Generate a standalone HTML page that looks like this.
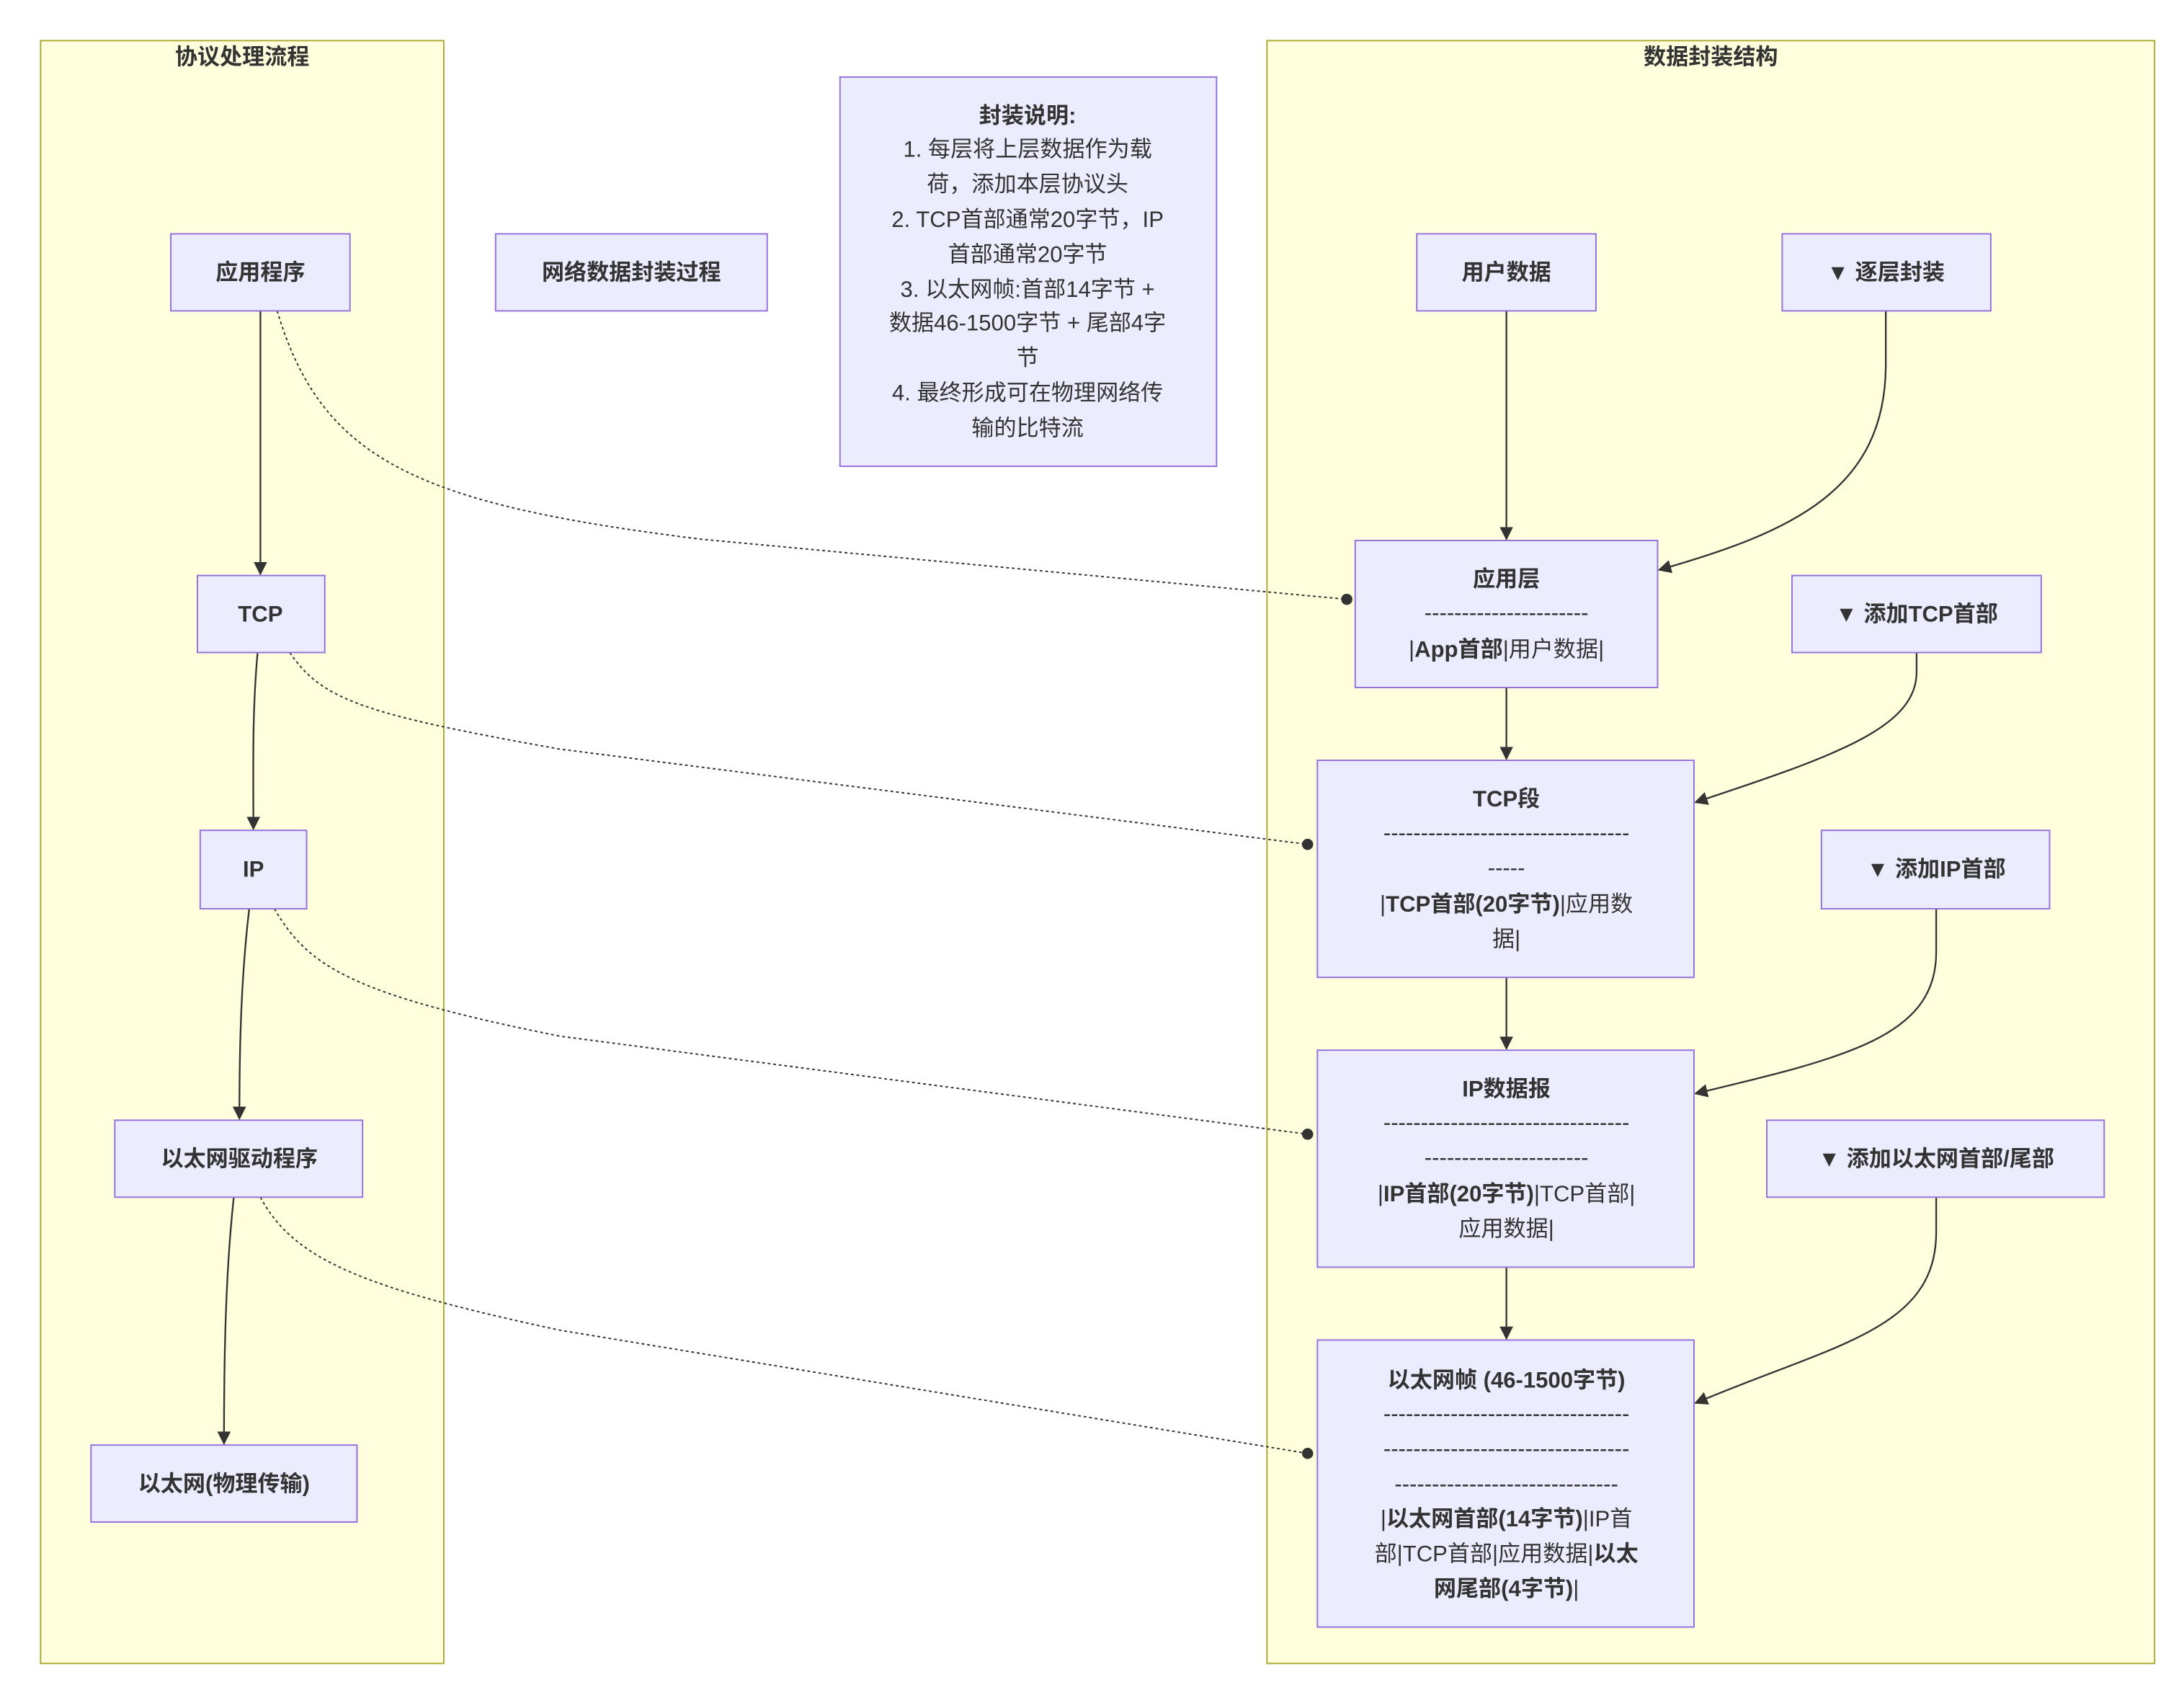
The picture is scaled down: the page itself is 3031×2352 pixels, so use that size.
<!DOCTYPE html>
<html><head><meta charset="utf-8"><style>
html,body{margin:0;padding:0;background:#fff;}
svg{display:block;}
text{font-family:"Liberation Sans","Noto Sans CJK SC",sans-serif;fill:#333;font-size:16px;text-anchor:middle;}
.b{font-weight:bold;}
.sg{fill:#ffffde;stroke:#aaaa33;stroke-width:1;}
.n{fill:#ECECFF;stroke:#9370DB;stroke-width:1;}
.e{fill:none;stroke:#333;stroke-width:1.2;}
.d{fill:none;stroke:#333;stroke-width:1;stroke-dasharray:2 2;}
</style></head><body>
<svg width="3031" height="2352" viewBox="0 0 1560 1210.5" xmlns="http://www.w3.org/2000/svg">
<defs>
<marker id="a" viewBox="0 0 10 10" refX="9" refY="5" markerWidth="8" markerHeight="8" orient="auto"><path d="M0,0L10,5L0,10z" fill="#333"/></marker>
<marker id="c" viewBox="0 0 10 10" refX="5" refY="5" markerWidth="8" markerHeight="8"><circle cx="5" cy="5" r="5" fill="#333"/></marker>
</defs>
<rect class="sg" x="29" y="29" width="288" height="1159"/>
<text class="b" x="173" y="46">协议处理流程</text>
<rect class="sg" x="905" y="29" width="634" height="1159"/>
<text class="b" x="1222" y="46">数据封装结构</text>

<!-- edges -->
<path class="e" marker-end="url(#a)" d="M186,222 L186,410"/>
<path class="e" marker-end="url(#a)" d="M184,466 C180,510 181,550 181,592"/>
<path class="e" marker-end="url(#a)" d="M178,649 C172,700 171,750 171,799"/>
<path class="e" marker-end="url(#a)" d="M167,855 C161,910 160,970 160,1031"/>
<path class="e" marker-end="url(#a)" d="M1076,222 L1076,385"/>
<path class="e" marker-end="url(#a)" d="M1076,491 L1076,542"/>
<path class="e" marker-end="url(#a)" d="M1076,698 L1076,749"/>
<path class="e" marker-end="url(#a)" d="M1076,905 L1076,956"/>
<path class="e" marker-end="url(#a)" d="M1347,222 L1347,260 C1347,350 1280,380 1185,407"/>
<path class="e" marker-end="url(#a)" d="M1369,466 L1369,480 C1369,520 1310,540 1211,573"/>
<path class="e" marker-end="url(#a)" d="M1383,649 L1383,680 C1383,740 1320,755 1211,781"/>
<path class="e" marker-end="url(#a)" d="M1383,855 L1383,880 C1383,950 1310,960 1211,1002"/>
<path class="d" marker-end="url(#c)" d="M198,222 C230,330 300,360 500,385 L962,428"/>
<path class="d" marker-end="url(#c)" d="M207,466 C230,500 260,510 400,535 L934,603"/>
<path class="d" marker-end="url(#c)" d="M196,649 C220,690 250,710 400,740 L934,810"/>
<path class="d" marker-end="url(#c)" d="M186,855 C210,900 260,920 400,950 L934,1038"/>

<!-- nodes -->
<rect class="n" x="122" y="167" width="128" height="55"/><text class="b" x="186" y="200">应用程序</text>
<rect class="n" x="141" y="411" width="91" height="55"/><text class="b" x="186" y="444">TCP</text>
<rect class="n" x="143" y="593" width="76" height="56"/><text class="b" x="181" y="626">IP</text>
<rect class="n" x="82" y="800" width="177" height="55"/><text class="b" x="171" y="833">以太网驱动程序</text>
<rect class="n" x="65" y="1032" width="190" height="55"/><text class="b" x="160" y="1065">以太网(物理传输)</text>
<rect class="n" x="354" y="167" width="194" height="55"/><text class="b" x="451" y="200">网络数据封装过程</text>

<rect class="n" x="600" y="55" width="269" height="278"/>
<text x="734" y="88" class="b">封装说明:</text>
<text x="734" y="112">1. 每层将上层数据作为载</text>
<text x="734" y="137">荷，添加本层协议头</text>
<text x="734" y="162">2. TCP首部通常20字节，IP</text>
<text x="734" y="187">首部通常20字节</text>
<text x="734" y="212">3. 以太网帧:首部14字节 +</text>
<text x="734" y="236">数据46-1500字节 + 尾部4字</text>
<text x="734" y="261">节</text>
<text x="734" y="286">4. 最终形成可在物理网络传</text>
<text x="734" y="311">输的比特流</text>

<rect class="n" x="1012" y="167" width="128" height="55"/><text class="b" x="1076" y="200">用户数据</text>
<rect class="n" x="1273" y="167" width="149" height="55"/><text class="b" x="1347" y="200">▼ 逐层封装</text>
<rect class="n" x="1280" y="411" width="178" height="55"/><text class="b" x="1369" y="444">▼ 添加TCP首部</text>
<rect class="n" x="1301" y="593" width="163" height="56"/><text class="b" x="1383" y="626">▼ 添加IP首部</text>
<rect class="n" x="1262" y="800" width="241" height="55"/><text class="b" x="1383" y="833">▼ 添加以太网首部/尾部</text>

<rect class="n" x="968" y="386" width="216" height="105"/>
<text class="b" x="1076" y="419">应用层</text>
<text x="1076" y="443">----------------------</text>
<text x="1076" y="469">|<tspan class="b">App首部</tspan>|用户数据|</text>

<rect class="n" x="941" y="543" width="269" height="155"/>
<text class="b" x="1076" y="576">TCP段</text>
<text x="1076" y="600">---------------------------------</text>
<text x="1076" y="625">-----</text>
<text x="1076" y="651">|<tspan class="b">TCP首部(20字节)</tspan>|应用数</text>
<text x="1076" y="676">据|</text>

<rect class="n" x="941" y="750" width="269" height="155"/>
<text class="b" x="1076" y="783">IP数据报</text>
<text x="1076" y="807">---------------------------------</text>
<text x="1076" y="832">----------------------</text>
<text x="1076" y="858">|<tspan class="b">IP首部(20字节)</tspan>|TCP首部|</text>
<text x="1076" y="883">应用数据|</text>

<rect class="n" x="941" y="957" width="269" height="205"/>
<text class="b" x="1076" y="991">以太网帧 (46-1500字节)</text>
<text x="1076" y="1015">---------------------------------</text>
<text x="1076" y="1040">---------------------------------</text>
<text x="1076" y="1065">------------------------------</text>
<text x="1076" y="1090">|<tspan class="b">以太网首部(14字节)</tspan>|IP首</text>
<text x="1076" y="1115">部|TCP首部|应用数据|<tspan class="b">以太</tspan></text>
<text x="1076" y="1140"><tspan class="b">网尾部(4字节)</tspan>|</text>
</svg>
</body></html>
